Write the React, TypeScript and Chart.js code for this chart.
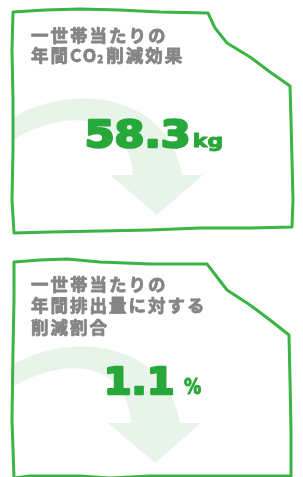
import React, { useEffect, useRef } from "react";
import { Chart, registerables } from "chart.js";

Chart.register(...registerables);

// ---- data ----
const panelTitles: string[][] = [
  ["一世帯当たりの", "年間CO₂削減効果"],
  ["一世帯当たりの", "年間排出量に対する", "削減割合"],
];
const panelValues: number[] = [58.3, 1.1];
const panelUnits: string[] = ["kg", "%"];

// ---- design space / styling ----
const W = 303;
const H = 477;
const GREEN = "#28a83a";
const BORDER = "#3ab445";
const ARROW = "#e8f4e9";
const GRAY = "#858585";

const outlines: number[][][] = [
  [
    [13, 12], [45, 10], [80, 9], [120, 10], [160, 12], [208, 13],
    [215, 28], [227, 43], [250, 57], [270, 72], [290, 86],
    [291, 120], [292, 160], [293, 200], [292, 227],
    [250, 228], [200, 228], [150, 230], [100, 231], [50, 232], [14, 233],
    [12, 200], [13, 150], [13, 100], [12, 50],
  ],
  [
    [14, 262], [40, 260], [67, 259], [100, 262], [150, 264], [207, 264],
    [217, 277], [227, 290], [250, 305], [270, 320], [289, 335],
    [290, 380], [291, 430], [291, 476],
    [200, 476], [150, 476], [110, 478], [80, 476], [30, 476], [14, 478],
    [12, 420], [13, 350], [14, 300],
  ],
];

const layouts = [
  { titleX: 31, titleY: [35, 55.5], base: 147, valueLeft: 87, valueSize: 37, valueScale: 1.16, unitLeft: 194, unitSize: 18, unitScale: 1.22, dx: 0, dy: 0 },
  { titleX: 31, titleY: [284, 305.5, 327], base: 394, valueLeft: 108, valueSize: 37, valueScale: 1.08, unitLeft: 184, unitSize: 21, unitScale: 0.82, dx: -2, dy: 248 },
];

const infographicPlugin = {
  id: "infographic",
  afterDraw(chart: any) {
    const ctx: CanvasRenderingContext2D = chart.ctx;
    const xs = chart.scales.x;
    const ys = chart.scales.y;
    const X = (v: number) => xs.getPixelForValue(v);
    const Y = (v: number) => ys.getPixelForValue(v);

    ctx.save();
    ctx.fillStyle = "#ffffff";
    ctx.fillRect(0, 0, chart.width, chart.height);
    ctx.restore();

    panelValues.forEach((value, i) => {
      const L = layouts[i];
      const pts = outlines[i];
      const outlinePath = () => {
        ctx.beginPath();
        pts.forEach((p, k) => (k === 0 ? ctx.moveTo(X(p[0]), Y(p[1])) : ctx.lineTo(X(p[0]), Y(p[1]))));
        ctx.closePath();
      };

      // arrow (clipped to the panel)
      ctx.save();
      outlinePath();
      ctx.clip();
      const ax = (v: number) => X(v + L.dx);
      const ay = (v: number) => Y(v + L.dy);
      ctx.beginPath();
      ctx.moveTo(ax(0), ay(128));
      ctx.bezierCurveTo(ax(45), ay(85), ax(165), ay(80), ax(182), ay(175));
      ctx.lineTo(ax(203), ay(175));
      ctx.lineTo(ax(157), ay(215));
      ctx.lineTo(ax(110), ay(175));
      ctx.lineTo(ax(133), ay(175));
      ctx.bezierCurveTo(ax(130), ay(118), ax(70), ay(100), ax(0), ay(148));
      ctx.closePath();
      ctx.fillStyle = ARROW;
      ctx.fill();
      ctx.restore();

      // border
      ctx.save();
      outlinePath();
      ctx.strokeStyle = BORDER;
      ctx.lineWidth = 3;
      ctx.lineJoin = "round";
      ctx.lineCap = "round";
      ctx.stroke();
      ctx.restore();

      // title
      ctx.save();
      ctx.fillStyle = GRAY;
      ctx.strokeStyle = GRAY;
      ctx.lineWidth = 0.8;
      ctx.lineJoin = "round";
      ctx.textBaseline = "middle";
      ctx.textAlign = "left";
      (ctx as any).letterSpacing = "2px";
      panelTitles[i].forEach((line, li) => {
        const parts = line.split("₂");
        let x = X(L.titleX);
        const y = Y(L.titleY[li]);
        parts.forEach((part, pi) => {
          ctx.font = "bold 17.5px 'Noto Sans CJK JP'";
          ctx.fillText(part, x, y);
          ctx.strokeText(part, x, y);
          x += ctx.measureText(part).width;
          if (pi < parts.length - 1) {
            ctx.font = "bold 10px 'Noto Sans CJK JP'";
            ctx.fillText("2", x - 1, y + 4);
            ctx.strokeText("2", x - 1, y + 4);
            x += ctx.measureText("2").width;
          }
        });
      });
      ctx.restore();

      // value
      const txt = value.toFixed(1);
      ctx.save();
      ctx.fillStyle = GREEN;
      ctx.strokeStyle = GREEN;
      ctx.lineJoin = "round";
      ctx.textBaseline = "alphabetic";
      ctx.textAlign = "left";
      ctx.font = `bold ${L.valueSize}px 'DejaVu Sans'`;
      const mv = ctx.measureText(txt);
      ctx.translate(X(L.valueLeft), Y(L.base));
      ctx.scale(L.valueScale, 1);
      ctx.lineWidth = 2.4;
      ctx.fillText(txt, mv.actualBoundingBoxLeft, 0);
      ctx.strokeText(txt, mv.actualBoundingBoxLeft, 0);
      ctx.restore();

      // unit
      ctx.save();
      ctx.fillStyle = GREEN;
      ctx.strokeStyle = GREEN;
      ctx.lineJoin = "round";
      ctx.textBaseline = "alphabetic";
      ctx.textAlign = "left";
      ctx.font = `bold ${L.unitSize}px 'DejaVu Sans'`;
      const mu = ctx.measureText(panelUnits[i]);
      ctx.translate(X(L.unitLeft), Y(L.base));
      ctx.scale(L.unitScale, 1);
      ctx.lineWidth = 1;
      ctx.fillText(panelUnits[i], mu.actualBoundingBoxLeft, 0);
      ctx.strokeText(panelUnits[i], mu.actualBoundingBoxLeft, 0);
      ctx.restore();
    });
  },
};

export default function App() {
  const ref = useRef<HTMLCanvasElement | null>(null);
  useEffect(() => {
    if (!ref.current) return;
    const chart = new Chart(ref.current, {
      type: "scatter",
      data: { datasets: [] },
      options: {
        responsive: true,
        maintainAspectRatio: false,
        animation: false,
        layout: { padding: 0 },
        scales: {
          x: { type: "linear", min: 0, max: W, display: false },
          y: { type: "linear", min: 0, max: H, reverse: true, display: false },
        },
        plugins: { legend: { display: false }, tooltip: { enabled: false } },
      },
      plugins: [infographicPlugin],
    } as any);
    return () => chart.destroy();
  }, []);
  return (
    <div style={{ position: "fixed", left: 0, top: 0, width: W, height: H, background: "#fff" }}>
      <canvas ref={ref} />
    </div>
  );
}
